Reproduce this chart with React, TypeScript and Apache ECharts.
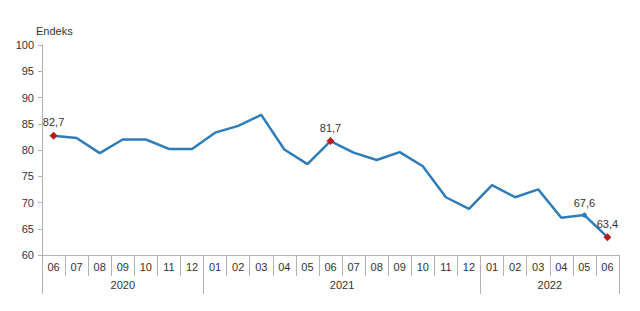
import React, { useEffect, useRef } from "react";
import * as echarts from "echarts";

const months = ["06","07","08","09","10","11","12","01","02","03","04","05","06","07","08","09","10","11","12","01","02","03","04","05","06"];
const values = [82.7,82.3,79.4,82.0,82.0,80.2,80.2,83.3,84.6,86.7,80.1,77.3,81.7,79.5,78.1,79.6,76.9,71.0,68.8,73.3,71.0,72.5,67.1,67.6,63.4];
const years = ["2020","2021","2022"];
const yearSpans = [7, 12, 6];
const redMarkers = [0, 12, 24];
const blueMarkers = [23];
const labelled = [0, 12, 23, 24];
const yTicks = { min: 60, max: 100, step: 5 };

const FONT = "Liberation Sans, Arial, sans-serif";
const LINE = "#2e7dba";
const RED = "#b81d1d";
const AXIS = "#b3b3b3";
const TEXT = "#333333";

export default function App() {
  const ref = useRef<HTMLDivElement>(null);
  useEffect(() => {
    if (!ref.current) return;
    const chart = echarts.init(ref.current, null, { renderer: "svg" });

    const boundaries: number[] = [];
    const yearPos: Record<string, string> = {};
    let acc = 0;
    yearSpans.forEach((s, i) => {
      boundaries.push(acc);
      yearPos[String(acc + s / 2)] = years[i];
      acc += s;
    });

    const data = values.map((v, i) => {
      const item: any = { value: v };
      if (redMarkers.includes(i)) {
        item.symbol = "diamond";
        item.symbolSize = 8;
        item.itemStyle = { color: RED };
      } else if (blueMarkers.includes(i)) {
        item.symbol = "circle";
        item.symbolSize = 5;
        item.itemStyle = { color: LINE };
      } else {
        item.symbol = "none";
      }
      if (labelled.includes(i)) {
        item.label = {
          show: true,
          position: "top",
          distance: 4,
          formatter: () => v.toFixed(1).replace(".", ","),
          color: TEXT,
          fontSize: 11,
          fontFamily: FONT,
        };
      }
      return item;
    });

    chart.setOption({
      animation: false,
      textStyle: { fontFamily: FONT },
      title: {
        text: "Endeks",
        left: 31,
        top: 20,
        textStyle: { fontSize: 11, fontWeight: "normal", color: TEXT, fontFamily: FONT },
      },
      grid: { left: 42, right: 21, top: 45, bottom: 56 },
      xAxis: [
        {
          type: "category",
          data: months,
          boundaryGap: true,
          axisLine: { lineStyle: { color: AXIS, width: 1 } },
          axisTick: { show: true, interval: 0, length: 21, lineStyle: { color: AXIS } },
          axisLabel: { interval: 0, color: TEXT, fontSize: 11, margin: 6, fontFamily: FONT },
          splitLine: { show: false },
        },
        {
          type: "category",
          data: months,
          position: "bottom",
          boundaryGap: true,
          axisLine: { show: false },
          axisTick: {
            show: true,
            length: 39,
            interval: (idx: number) => boundaries.includes(idx),
            lineStyle: { color: AXIS },
          },
          axisLabel: { show: false },
          splitLine: { show: false },
        },
        {
          type: "value",
          position: "bottom",
          min: 0,
          max: months.length,
          interval: 0.5,
          axisLine: { show: false },
          axisTick: { show: false },
          splitLine: { show: false },
          axisLabel: {
            margin: 24,
            color: TEXT,
            fontSize: 11,
            fontFamily: FONT,
            formatter: (val: number) => yearPos[String(val)] || "",
          },
        },
      ],
      yAxis: {
        type: "value",
        min: yTicks.min,
        max: yTicks.max,
        interval: yTicks.step,
        axisLine: { show: true, lineStyle: { color: AXIS } },
        axisTick: { show: true, length: 4, lineStyle: { color: AXIS } },
        splitLine: { show: false },
        axisLabel: { color: TEXT, fontSize: 11, margin: 8, fontFamily: FONT },
      },
      series: [
        {
          type: "line",
          xAxisIndex: 0,
          data,
          lineStyle: { color: LINE, width: 2.5 },
          itemStyle: { color: LINE },
          showSymbol: true,
          z: 3,
        },
      ],
    });
    return () => chart.dispose();
  }, []);
  return <div ref={ref} style={{ width: 640, height: 311, position: "absolute", left: 0, top: 0 }} />;
}
